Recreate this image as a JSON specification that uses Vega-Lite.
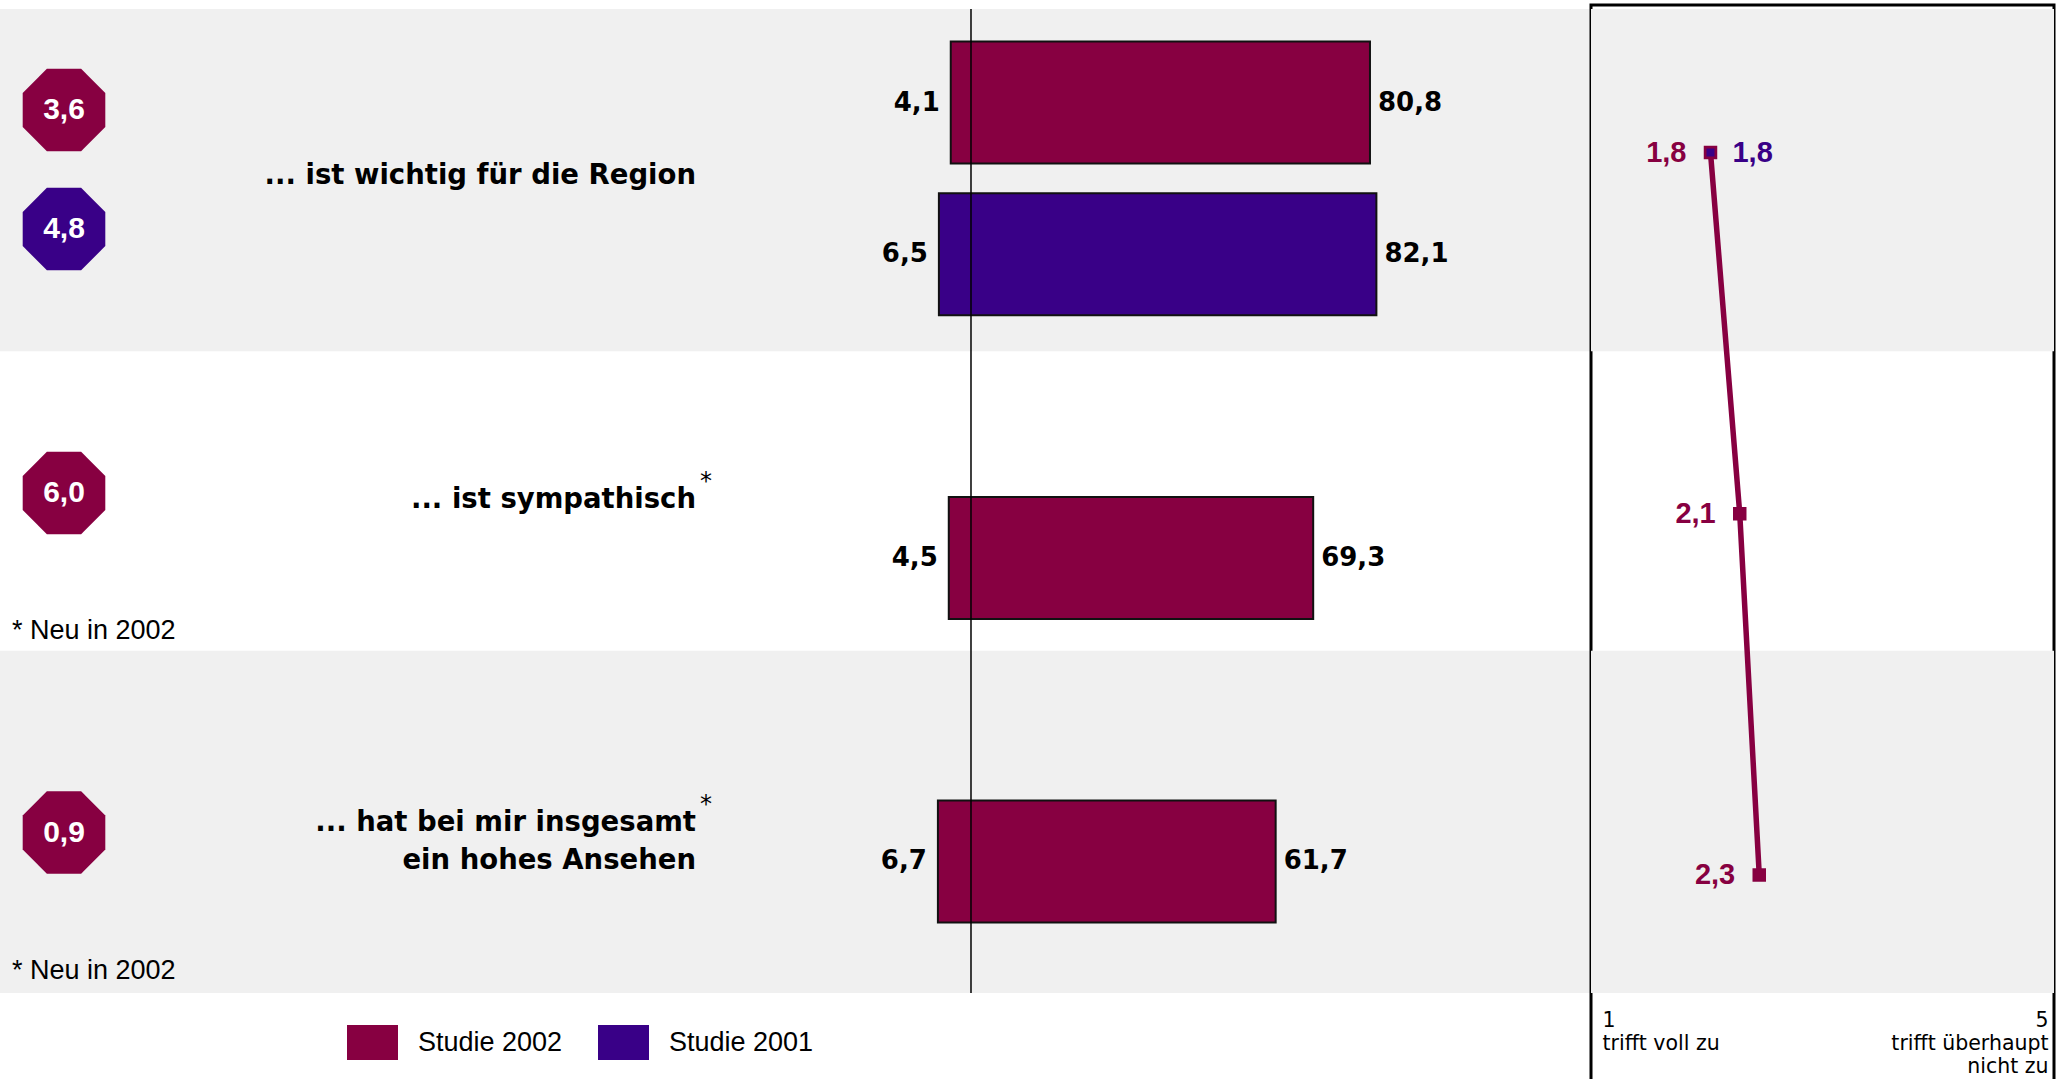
{
  "$schema": "https://vega.github.io/schema/vega-lite/v6.json",
  "padding": {"left": 0, "top": 3, "right": 0, "bottom": 0},
  "spacing": 0,
  "bounds": "flush",
  "background": "white",
  "config": {
    "view": {"stroke": null},
    "locale": {"number": {"decimal": ",", "thousands": ".", "grouping": [3], "currency": ["", " €"], "minus": ""}}
  },
  "datasets": {
    "werte": [
      {"aussage": "wichtig", "studie": "Studie 2002", "zeile": "wichtig 2002", "ablehnung": -4.1, "zustimmung": 80.8, "kennzahl": 3.6, "mittelwert": 1.8},
      {"aussage": "wichtig", "studie": "Studie 2001", "zeile": "wichtig 2001", "ablehnung": -6.5, "zustimmung": 82.1, "kennzahl": 4.8, "mittelwert": 1.8},
      {"aussage": "sympathisch", "studie": "Studie 2002", "zeile": "sympathisch 2002", "ablehnung": -4.5, "zustimmung": 69.3, "kennzahl": 6.0, "mittelwert": 2.1},
      {"aussage": "Ansehen", "studie": "Studie 2002", "zeile": "Ansehen 2002", "ablehnung": -6.7, "zustimmung": 61.7, "kennzahl": 0.9, "mittelwert": 2.3}
    ],
    "aussagen": [
      {"aussage": "wichtig", "text": "... ist wichtig für die Region", "neu": false},
      {"aussage": "sympathisch", "text": "... ist sympathisch", "neu": true},
      {"aussage": "Ansehen", "text": ["... hat bei mir insgesamt", "ein hohes Ansehen"], "neu": true}
    ],
    "nulllinie": [{"wert": 0}]
  },
  "hconcat": [
    {
      "width": 1591,
      "height": 1078,
      "layer": [
        {
          "layer": [
            {
              "data": {"name": "aussagen"},
              "transform": [{"filter": {"field": "aussage", "oneOf": ["wichtig", "Ansehen"]}}],
              "mark": {"type": "rect", "color": "#f0f0f0"},
              "encoding": {
                "x": {"value": 0},
                "x2": {"value": "width"},
                "y": {"field": "aussage", "type": "nominal", "axis": null,
                      "scale": {"type": "band", "domain": ["wichtig", "Ansehen"], "range": [4, 988], "paddingInner": 0.4665, "paddingOuter": 0}}
              }
            },
            {
              "data": {"name": "werte"},
              "encoding": {
                "y": {"field": "zeile", "type": "nominal", "axis": null,
                      "scale": {"type": "band", "domain": ["wichtig 2002", "wichtig 2001", "sympathisch 2001", "sympathisch 2002", "Ansehen 2001", "Ansehen 2002"], "range": [36.5, 917.5], "paddingInner": 0.1963, "paddingOuter": 0}}
              },
              "layer": [
                {
                  "mark": {"type": "bar", "stroke": "#111", "strokeWidth": 2, "opacity": 1},
                  "encoding": {
                    "x": {"field": "ablehnung", "type": "quantitative", "axis": null,
                          "scale": {"domain": [-196.64, 125.56], "zero": false, "nice": false}},
                    "x2": {"field": "zustimmung"},
                    "color": {"field": "studie", "type": "nominal",
                              "scale": {"domain": ["Studie 2002", "Studie 2001"], "range": ["#870041", "#390087"]},
                              "legend": {"orient": "none", "legendX": 347, "legendY": 1012, "direction": "horizontal", "title": null,
                                         "symbolType": "M-1,-0.686H1V0.686H-1Z", "symbolSize": 2601, "symbolStrokeWidth": 0, "symbolOpacity": 1,
                                         "labelFont": "Liberation Sans", "labelFontSize": 27, "labelColor": "#000", "labelOffset": 20, "labelLimit": 400,
                                         "columnPadding": 35, "padding": 0}}
                  }
                },
                {
                  "mark": {"type": "text", "align": "right", "baseline": "middle", "dx": -11, "font": "DejaVu Sans", "fontWeight": "bold", "fontSize": 26, "color": "#000"},
                  "encoding": {
                    "x": {"field": "ablehnung", "type": "quantitative"},
                    "text": {"field": "ablehnung", "type": "quantitative", "format": ".1f"}
                  }
                },
                {
                  "mark": {"type": "text", "align": "left", "baseline": "middle", "dx": 8, "font": "DejaVu Sans", "fontWeight": "bold", "fontSize": 26, "color": "#000"},
                  "encoding": {
                    "x": {"field": "zustimmung", "type": "quantitative"},
                    "text": {"field": "zustimmung", "type": "quantitative", "format": ".1f"}
                  }
                }
              ]
            },
            {
              "data": {"name": "nulllinie"},
              "mark": {"type": "rule", "color": "#000", "strokeWidth": 1.5},
              "encoding": {
                "x": {"field": "wert", "type": "quantitative"},
                "y": {"datum": "wichtig", "type": "nominal", "bandPosition": 0, "axis": null,
                      "scale": {"type": "band", "domain": ["wichtig", "Ansehen"], "range": [4, 988], "paddingInner": 0.4665, "paddingOuter": 0}},
                "y2": {"datum": "Ansehen", "bandPosition": 1}
              }
            }
          ],
          "resolve": {"scale": {"y": "independent"}}
        },
        {
          "data": {"name": "aussagen"},
          "encoding": {
            "x": {"datum": "Aussage", "type": "nominal", "axis": null,
                  "scale": {"type": "point", "domain": ["Kennzahl", "Aussage"], "range": [64, 696], "padding": 0}},
            "y": {"field": "aussage", "type": "nominal", "axis": null,
                  "scale": {"type": "point", "domain": ["wichtig", "sympathisch", "Ansehen"], "range": [179, 826], "padding": 0}}
          },
          "layer": [
            {
              "mark": {"type": "text", "align": "right", "baseline": "alphabetic", "font": "DejaVu Sans", "fontWeight": "bold", "fontSize": 27.5, "lineHeight": 38, "color": "#000"},
              "encoding": {"text": {"field": "text"}}
            },
            {
              "transform": [{"filter": "datum.neu"}],
              "mark": {"type": "text", "text": "*", "align": "left", "baseline": "alphabetic", "dx": 4, "dy": -19, "font": "DejaVu Sans", "fontSize": 24, "color": "#000"}
            }
          ]
        },
        {
          "data": {"name": "werte"},
          "transform": [{"filter": "datum.aussage == 'wichtig'"}],
          "encoding": {
            "x": {"datum": "Kennzahl", "type": "nominal", "axis": null,
                  "scale": {"type": "point", "domain": ["Kennzahl", "Aussage"], "range": [64, 696], "padding": 0}},
            "y": {"field": "studie", "type": "nominal", "axis": null,
                  "scale": {"type": "point", "domain": ["Studie 2002", "Studie 2001"], "range": [105, 224], "padding": 0}}
          },
          "layer": [
            {
              "mark": {"type": "point", "shape": "M-0.4142,-1L0.4142,-1L1,-0.4142L1,0.4142L0.4142,1L-0.4142,1L-1,0.4142L-1,-0.4142Z", "filled": true, "opacity": 1, "size": 6823, "strokeWidth": 0},
              "encoding": {"color": {"field": "studie", "type": "nominal", "legend": null}}
            },
            {
              "mark": {"type": "text", "align": "center", "baseline": "middle", "font": "Liberation Sans", "fontWeight": "bold", "fontSize": 30, "color": "#fff"},
              "encoding": {"text": {"field": "kennzahl", "type": "quantitative", "format": ".1f"}}
            }
          ]
        },
        {
          "encoding": {
            "x": {"datum": "Kennzahl", "type": "nominal", "axis": null,
                  "scale": {"type": "point", "domain": ["Kennzahl", "Aussage"], "range": [64, 696], "padding": 0}},
            "y": {"field": "aussage", "type": "nominal", "axis": null,
                  "scale": {"type": "point", "domain": ["sympathisch", "Ansehen"], "range": [488, 827.5], "padding": 0}}
          },
          "layer": [
            {
              "data": {"name": "werte"},
              "transform": [{"filter": "datum.aussage != 'wichtig'"}],
              "mark": {"type": "point", "shape": "M-0.4142,-1L0.4142,-1L1,-0.4142L1,0.4142L0.4142,1L-0.4142,1L-1,0.4142L-1,-0.4142Z", "filled": true, "opacity": 1, "size": 6823, "strokeWidth": 0},
              "encoding": {"color": {"field": "studie", "type": "nominal", "legend": null}}
            },
            {
              "data": {"name": "werte"},
              "transform": [{"filter": "datum.aussage != 'wichtig'"}],
              "mark": {"type": "text", "align": "center", "baseline": "middle", "font": "Liberation Sans", "fontWeight": "bold", "fontSize": 30, "color": "#fff"},
              "encoding": {"text": {"field": "kennzahl", "type": "quantitative", "format": ".1f"}}
            },
            {
              "data": {"name": "aussagen"},
              "transform": [{"filter": "datum.neu"}],
              "mark": {"type": "text", "text": "* Neu in 2002", "align": "left", "baseline": "alphabetic", "dx": -52, "dy": 146, "font": "Liberation Sans", "fontSize": 27, "color": "#000"}
            }
          ]
        }
      ],
      "resolve": {"scale": {"x": "independent", "y": "independent"}}
    },
    {
      "width": 463,
      "height": 1078,
      "view": {"stroke": "#000", "strokeWidth": 3},
      "layer": [
        {
          "data": {"name": "aussagen"},
          "transform": [{"filter": {"field": "aussage", "oneOf": ["wichtig", "Ansehen"]}}],
          "mark": {"type": "rect", "color": "#f0f0f0"},
          "encoding": {
            "x": {"value": 0},
            "x2": {"value": "width"},
            "y": {"field": "aussage", "type": "nominal", "axis": null,
                  "scale": {"type": "band", "domain": ["wichtig", "Ansehen"], "range": [4, 988], "paddingInner": 0.4665, "paddingOuter": 0}}
          }
        },
        {
          "data": {"name": "werte"},
          "encoding": {
            "x": {"field": "mittelwert", "type": "quantitative",
                  "scale": {"domain": [0.5744, 5.3231], "zero": false, "nice": false},
                  "axis": {"orient": "bottom", "values": [1, 5], "offset": -56.5, "domain": false, "ticks": false, "tickSize": 0, "grid": false, "title": null,
                           "labelPadding": 0, "labelBaseline": "alphabetic", "labelFont": "DejaVu Sans", "labelFontSize": 20.5, "labelColor": "#000",
                           "labelLineHeight": 23, "labelOverlap": false, "labelFlush": false, "labelBound": false,
                           "labelExpr": "datum.value == 1 ? ['1', 'trifft voll zu'] : ['5', 'trifft überhaupt', 'nicht zu']",
                           "labelAlign": {"condition": {"test": "datum.value == 1", "value": "left"}, "value": "right"},
                           "labelOffset": {"condition": {"test": "datum.value == 1", "value": -30.5}, "value": 25.5}}},
            "y": {"field": "aussage", "type": "nominal", "axis": null,
                  "scale": {"type": "point", "domain": ["wichtig", "sympathisch", "Ansehen"], "range": [147.5, 870], "padding": 0}},
            "color": {"field": "studie", "type": "nominal", "legend": null,
                      "scale": {"domain": ["Studie 2002", "Studie 2001"], "range": ["#870041", "#390087"]}}
          },
          "layer": [
            {
              "mark": {"type": "line", "strokeWidth": 5.5},
              "encoding": {"order": {"value": null}}
            },
            {
              "mark": {"type": "point", "shape": "square", "filled": true, "opacity": 1, "strokeWidth": 0},
              "encoding": {"size": {"field": "studie", "type": "nominal", "legend": null,
                                    "scale": {"domain": ["Studie 2002", "Studie 2001"], "range": [182, 64]}}}
            },
            {
              "transform": [{"filter": "datum.studie == 'Studie 2002'"}],
              "mark": {"type": "text", "align": "right", "baseline": "middle", "dx": -24, "font": "Liberation Sans", "fontWeight": "bold", "fontSize": 29},
              "encoding": {"text": {"field": "mittelwert", "type": "quantitative", "format": ".1f"}}
            },
            {
              "transform": [{"filter": "datum.studie == 'Studie 2001'"}],
              "mark": {"type": "text", "align": "left", "baseline": "middle", "dx": 22, "font": "Liberation Sans", "fontWeight": "bold", "fontSize": 29},
              "encoding": {"text": {"field": "mittelwert", "type": "quantitative", "format": ".1f"}}
            }
          ]
        }
      ],
      "resolve": {"scale": {"y": "independent"}}
    }
  ],
  "resolve": {"scale": {"color": "independent"}, "legend": {"color": "independent"}}
}
